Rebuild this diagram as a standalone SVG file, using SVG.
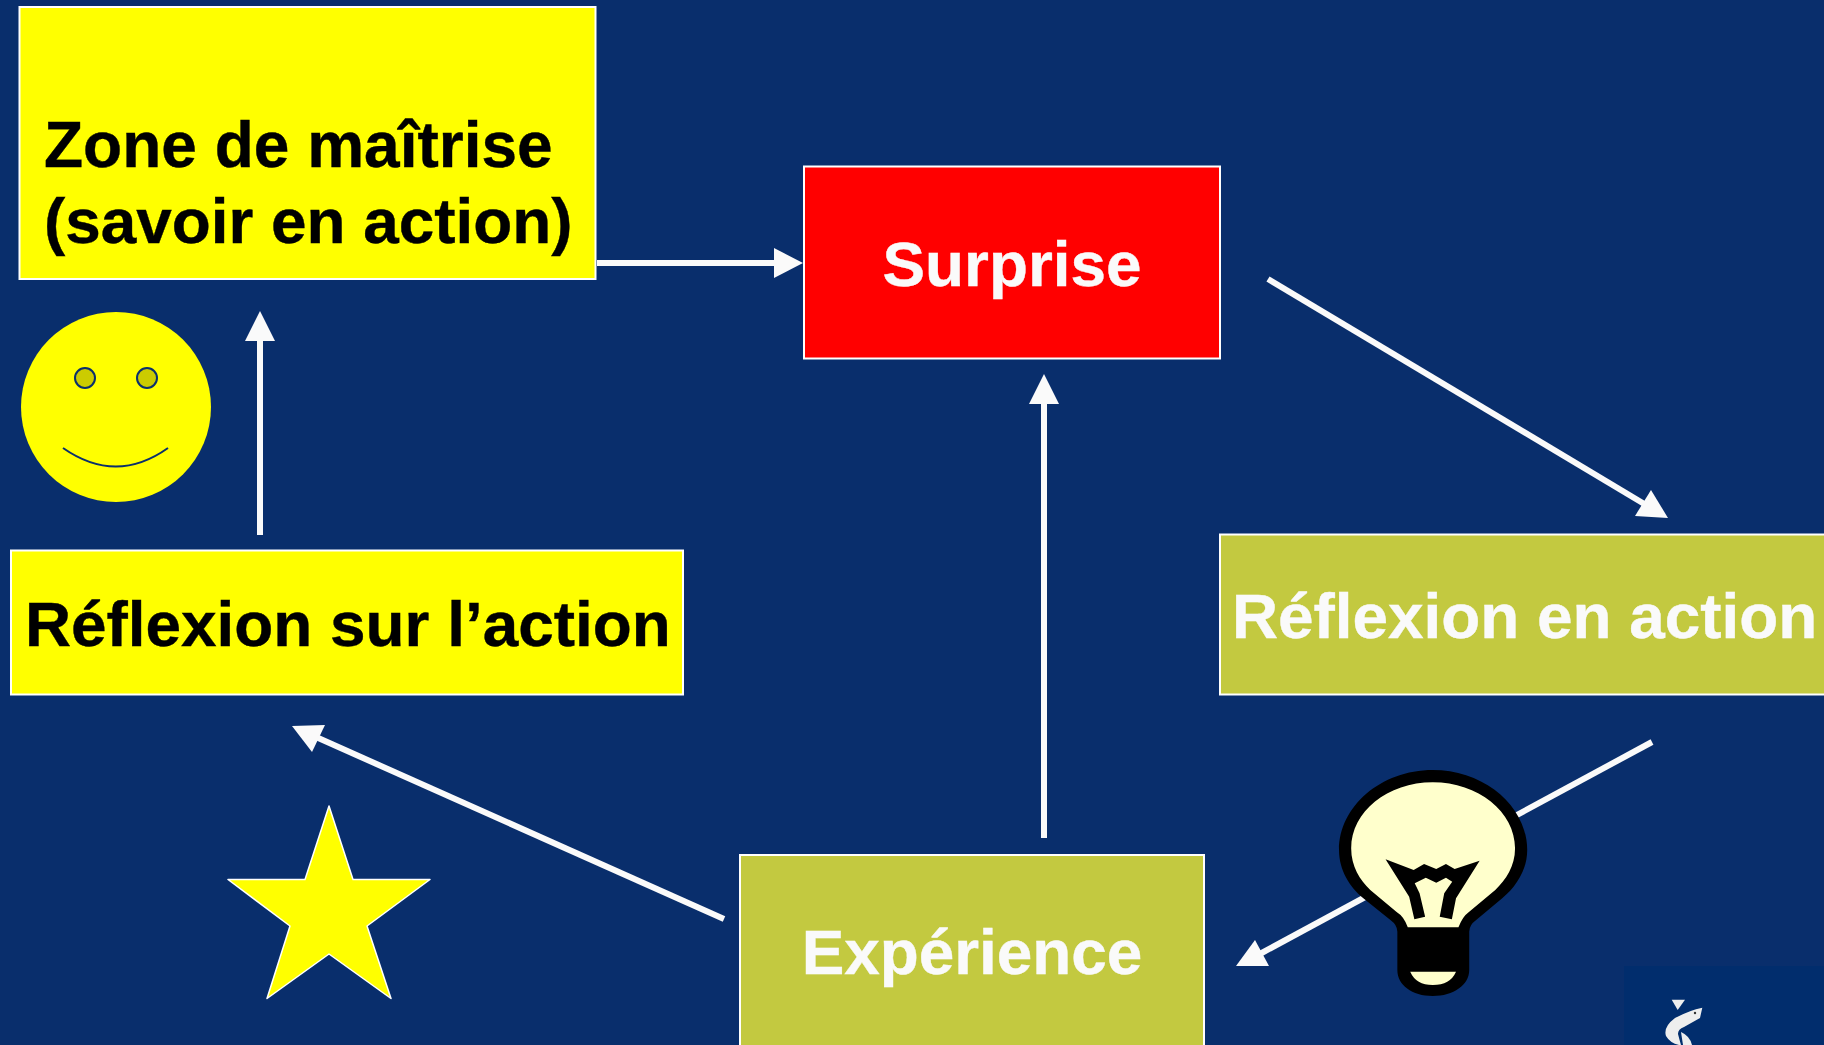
<svg xmlns="http://www.w3.org/2000/svg" width="1824" height="1045" viewBox="0 0 1824 1045">
<style>
.box{stroke:#fff;stroke-width:2}
.y{fill:#ff0}
.o{fill:#c3c940}
text{font-family:"Liberation Sans",Arial,sans-serif;font-weight:700;font-size:63.850px;stroke-width:.4px}
.w{fill:#fafafa;stroke:#fafafa}
.k{fill:#000;stroke:#000}
.c{stroke:#fafafa;stroke-width:6;fill:none;stroke-linecap:butt}
.h{fill:#fafafa}
.bk{fill:#000}
.cr{fill:#ffffcc}
.f{stroke:#0a2f6c;stroke-width:2}
</style>
<rect width="1824" height="1045" fill="#092e6c"/>
<g id="connectors">
<path class="c" d="M597 263H776"/><path class="h" d="M803 263L774 248V278Z"/>
<path class="c" d="M260 535V339"/><path class="h" d="M260 311L245 341H275Z"/>
<path class="c" d="M1044 838V403"/><path class="h" d="M1044 374L1029 404H1059Z"/>
<path class="c" d="M1268 279L1646 505"/><path class="h" d="M1668 518L1635 516L1651 490Z"/>
<path class="c" d="M1652 742L1258 955"/><path class="h" d="M1236 966L1269 966L1255 940Z"/>
<path class="c" d="M724 919L316 737"/><path class="h" d="M292 726L325 725L312 752Z"/>
</g>
<g id="zone"><rect class="box y" x="19.500" y="7" width="576" height="272"/>
<text class="k" x="44" y="167" style="font-size:64px">Zone de maîtrise</text><text class="k" x="44" y="243">(savoir en action)</text></g>
<g id="surprise"><rect class="box" fill="#f00" x="804" y="166.500" width="416" height="192"/>
<text class="w" x="1012" y="286" text-anchor="middle">Surprise</text></g>
<g id="reflexion-action"><rect class="box o" x="1220" y="534.500" width="620" height="160"/>
<text class="w" x="1232" y="638">Réflexion en action</text></g>
<g id="reflexion-sur"><rect class="box y" x="11" y="550.500" width="672" height="144"/>
<text class="k" x="25" y="646">Réflexion sur l’action</text></g>
<g id="experience"><rect class="box o" x="740" y="855" width="464" height="200"/>
<text class="w" x="972" y="973.500" text-anchor="middle">Expérience</text></g>
<g id="smiley"><circle cx="116" cy="407" r="95" class="y"/>
<circle cx="85" cy="378" r="10" fill="#cc0" class="f"/><circle cx="147" cy="378" r="10" fill="#cc0" class="f"/>
<path d="M63 448Q116 485 168 448" fill="none" class="f"/></g>
<g id="star"><path class="y" stroke="#fff" stroke-width="1.500" stroke-linejoin="round" d="M329 806L353 879.500H430L367 926L391 998.500L329 954L267 998.500L290 926L228 879.500H305Z"/></g>
<g id="bulb" transform="translate(1280 720) scale(.3472 .3333)">
<path class="bk" d="M440 150C590 150 712 260 712 390C712 450 680 500 640 535L565 600Q545 615 545 635V750C545 795 500 828 440 828C380 828 338 795 338 750V635Q338 615 318 600L240 535C200 500 170 450 170 390C170 260 290 150 440 150Z"/>
<path class="cr" d="M440 187C570 187 677 275 677 385C677 440 650 480 620 510L545 575Q525 590 514 622H368Q358 590 335 575L260 510C230 480 205 440 205 385C205 275 310 187 440 187Z"/>
<path class="cr" d="M375 755H507Q490 795 440 795Q392 795 375 755Z"/>
<path class="bk" d="M304 418L385 450L415 432L450 447L478 432L503 447L575 422L507 535L495 598L460 590L473 520L496 485L478 473L450 488L420 473L388 490L402 520L418 590L387 598L372 530Z"/>
</g>
<g id="logo"><rect x="1624" y="966" width="200" height="79" fill="#012d6d"/>
<path fill="#eee" d="M1671.700 999.700H1685L1677.700 1010Z"/>
<path fill="#eee" d="M1702.300 1007.700Q1690 1010 1675 1018Q1663 1027 1666 1036Q1670 1043 1679 1045H1681Q1679 1038 1678 1034Q1678 1029 1684 1027L1700 1018Z"/>
<path fill="#eee" d="M1681 1032Q1690 1036 1692 1045H1683Z"/>
<circle cx="1695" cy="1013" r="1.200" fill="#333"/></g>
</svg>
